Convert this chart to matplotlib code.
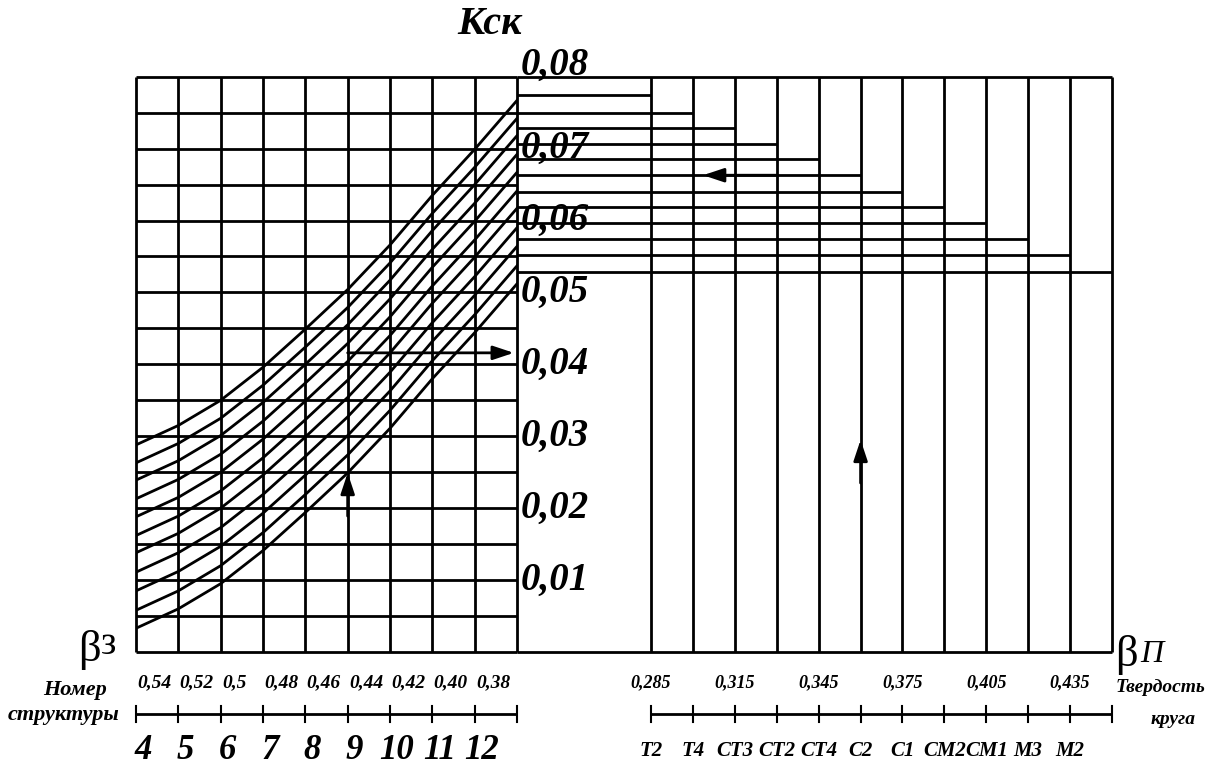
import numpy as np
import matplotlib
matplotlib.use('Agg')
import matplotlib.pyplot as plt

# values
ksk_vals = [0.01, 0.02, 0.03, 0.04, 0.05, 0.06, 0.07, 0.08]
ksk_labels = ['0,01', '0,02', '0,03', '0,04', '0,05', '0,06', '0,07', '0,08']

beta_z = [0.54, 0.52, 0.50, 0.48, 0.46, 0.44, 0.42, 0.40, 0.38, 0.36]
beta_z_labels = ['0,54', '0,52', '0,5', '0,48', '0,46', '0,44', '0,42', '0,40', '0,38']
structure = ['4', '5', '6', '7', '8', '9', '10', '11', '12']

beta_p = [0.285, 0.300, 0.315, 0.330, 0.345, 0.360, 0.375, 0.390, 0.405, 0.420, 0.435, 0.450]
beta_p_labels = ['0,285', '0,315', '0,345', '0,375', '0,405', '0,435']
beta_p_label_vals = [0.285, 0.315, 0.345, 0.375, 0.405, 0.435]
hardness = ['Т2', 'Т4', 'СТ3', 'СТ2', 'СТ4', 'С2', 'С1', 'СМ2', 'СМ1', 'М3', 'М2']

# upper edge of the hatched band, Ksk at each beta_z grid line
band_top = [0.0287, 0.0314, 0.0349, 0.0395, 0.0448, 0.0503, 0.0565, 0.0634, 0.0698, 0.0766]
# where each hatch curve meets the left edge (beta_z = 0.54)
band_starts = [0.0288, 0.0263, 0.0239, 0.0213, 0.0188, 0.0162, 0.0138, 0.0111, 0.0085, 0.0058, 0.0033]

# right-hand staircase: Ksk level of each line, ends at the matching beta_p line
stair_ksk = [0.0775, 0.0750, 0.0729, 0.0707, 0.0685, 0.0663, 0.0640, 0.0619, 0.0596, 0.0575, 0.0552, 0.0529]

# worked example (arrows)
ex_bz, ex_k1, ex_k2 = 0.44, 0.0249, 0.0416
ex_bp, ex_k3, ex_k4 = 0.36, 0.0295, 0.0663

W, H = 1221, 769
fig = plt.figure(figsize=(W / 100, H / 100), dpi=100)


def box(x0, y0, x1, y1):
    return [x0 / W, 1 - y1 / H, (x1 - x0) / W, (y1 - y0) / H]


fnt = dict(family=['Liberation Serif', 'DejaVu Serif'], weight='bold', style='italic')
lw = 2.0
kw = dict(color='black', lw=lw, solid_capstyle='butt', clip_on=False)

axL = fig.add_axes(box(136, 76.7, 517, 652))
axL.set_xlim(0.54, 0.36)
axL.set_ylim(0, 0.08)
axL.axis('off')

axR = fig.add_axes(box(517, 76.7, 1112, 652))
axR.set_xlim(0.237, 0.45)
axR.set_ylim(0, 0.08)
axR.axis('off')

# left grid
for b in beta_z:
    axL.plot([b, b], [0, 0.08], zorder=3, **kw)
for k in np.linspace(0, 0.08, 17):
    axL.plot([0.54, 0.36], [k, k], zorder=3, **kw)

# hatched band
top = np.array(band_top)
for s in band_starts:
    axL.plot(beta_z, top - top[0] + s, color='black', lw=lw, zorder=3)

# right part
for b in beta_p:
    axR.plot([b, b], [0, 0.08], zorder=3, **kw)
axR.plot([0.237, 0.45], [0.08, 0.08], zorder=3, **kw)
axR.plot([0.237, 0.45], [0, 0], zorder=3, **kw)
for k, b in zip(stair_ksk, beta_p):
    axR.plot([0.237, b], [k, k], zorder=3, **kw)

# arrows
ap = dict(arrowstyle='-|>,head_length=0.9,head_width=0.3', color='black', lw=lw,
          mutation_scale=14, shrinkA=0, shrinkB=0)
axL.annotate('', xy=(0.3615, ex_k2), xytext=(ex_bz, ex_k2), arrowprops=ap, zorder=4)
axL.annotate('', xy=(ex_bz, ex_k1), xytext=(ex_bz, ex_k1 - 0.006), arrowprops=ap, zorder=4)
axR.annotate('', xy=(ex_bp, ex_k3), xytext=(ex_bp, ex_k3 - 0.006), arrowprops=ap, zorder=4)
axR.annotate('', xy=(0.3036, ex_k4), xytext=(0.33, ex_k4), arrowprops=ap, zorder=4)

# Ksk labels
tr = axR.get_yaxis_transform()
for v, t in zip(ksk_vals, ksk_labels):
    if v == ksk_vals[-1]:
        axR.text(0.006, v + 0.0003, t, transform=tr, fontsize=28, ha='left', va='baseline',
                 zorder=2, **fnt)
    else:
        axR.text(0.006, v, t, transform=tr, fontsize=28, ha='left', va='center',
                 zorder=2, **fnt)

fig.text(490 / W, 1 - 24 / H, 'Кск', fontsize=29, ha='center', va='center', **fnt)

# beta_z scale + structure number scale
trL = axL.get_xaxis_transform()
for b, t in zip(beta_z, beta_z_labels):
    axL.annotate(t, (b, -0.054), xycoords=trL, xytext=(1, 0), textcoords='offset points',
                 fontsize=14, ha='left', va='center', **fnt)
axL.plot([0.54, 0.36], [-0.108, -0.108], transform=trL, **kw)
for b in beta_z:
    axL.plot([b, b], [-0.093, -0.122], transform=trL, color='black', lw=1.5, clip_on=False)
for b, t in zip(beta_z, structure):
    axL.annotate(t, (b, -0.172), xycoords=trL, xytext=(5, 0), textcoords='offset points',
                 fontsize=25, ha='center', va='center', **fnt)

# beta_p scale + wheel hardness scale
trR = axR.get_xaxis_transform()
for b, t in zip(beta_p_label_vals, beta_p_labels):
    axR.text(b, -0.054, t, transform=trR, fontsize=13, ha='center', va='center', **fnt)
axR.plot([0.285, 0.45], [-0.108, -0.108], transform=trR, **kw)
for b in beta_p:
    axR.plot([b, b], [-0.093, -0.122], transform=trR, color='black', lw=1.5, clip_on=False)
for b, t in zip(beta_p, hardness):
    axR.text(b, -0.172, t, transform=trR, fontsize=15, ha='center', va='center', **fnt)

# axis names
fig.text(89 / W, 1 - 650 / H, 'β', fontsize=32, family='Liberation Serif', ha='center', va='center')
fig.text(109 / W, 1 - 644 / H, 'з', fontsize=28, family='Liberation Serif',
         ha='center', va='center')
fig.text(1126 / W, 1 - 655 / H, 'β', fontsize=32, family='Liberation Serif', ha='center', va='center')
fig.text(1152 / W, 1 - 654 / H, 'П', fontsize=23, family='Liberation Serif', style='italic',
         ha='center', va='center')

fig.text(75 / W, 1 - 690 / H, 'Номер', fontsize=16, ha='center', va='center', **fnt)
fig.text(64 / W, 1 - 715 / H, 'структуры', fontsize=16, ha='center', va='center', **fnt)
fig.text(1160 / W, 1 - 688 / H, 'Твердость', fontsize=14, ha='center', va='center', **fnt)
fig.text(1173 / W, 1 - 720 / H, 'круга', fontsize=14, ha='center', va='center', **fnt)

fig.savefig('out.png', dpi=100, facecolor='white')
